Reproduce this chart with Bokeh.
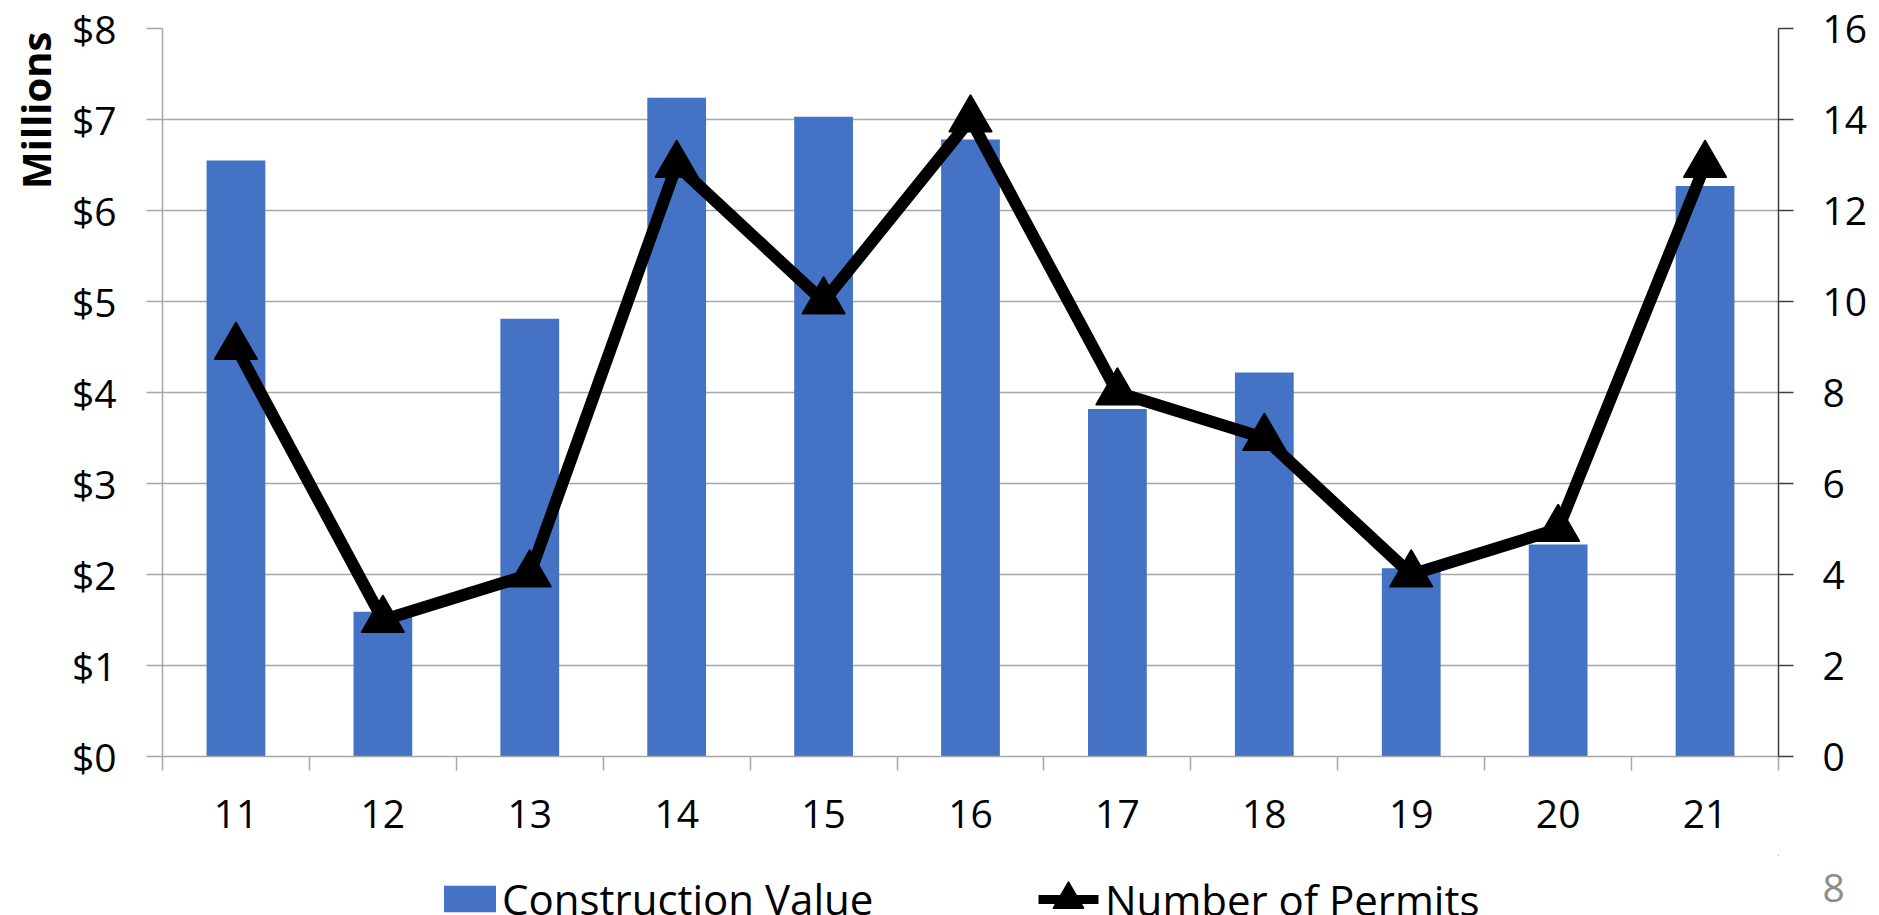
from bokeh.plotting import figure
from bokeh.layouts import column
from bokeh.models import (Range1d, LinearAxis, FixedTicker, PrintfTickFormatter,
                          Legend, LegendItem, Title)
from bokeh.embed import file_html
from bokeh.resources import INLINE

# ---- data ----
years = ["11", "12", "13", "14", "15", "16", "17", "18", "19", "20", "21"]
construction_value = [6.55, 1.59, 4.81, 7.24, 7.03, 6.78, 3.82, 4.22, 2.07, 2.33, 6.27]  # $ millions
permits = [9, 3, 4, 13, 10, 14, 8, 7, 4, 5, 13]
value_ticks = [0, 1, 2, 3, 4, 5, 6, 7, 8]
permit_ticks = [0, 2, 4, 6, 8, 10, 12, 14, 16]
page_number = "8"

FONT = "Open Sans"
BAR = "#4472C4"
GRID = "#a6a6a6"
DARK = "#404040"
W = 1879

xs = [i + 0.5 for i in range(len(years))]
bounds = list(range(0, len(years) + 1))

p = figure(width=W, height=855, output_backend="svg", toolbar_location=None,
           x_range=Range1d(0, len(years)), y_range=Range1d(value_ticks[0], value_ticks[-1]),
           x_axis_type=None, min_border_left=162, min_border_right=101,
           min_border_top=28, min_border_bottom=99)
p.extra_y_ranges = {"permits": Range1d(permit_ticks[0], permit_ticks[-1])}
p.outline_line_color = None

# left axis
ya = p.yaxis[0]
ya.ticker = FixedTicker(ticks=value_ticks)
ya.formatter = PrintfTickFormatter(format="$%d")
ya.axis_line_color = GRID
ya.axis_line_width = 1.5
ya.major_tick_line_color = GRID
ya.major_tick_line_width = 1.5
ya.major_tick_out = 16
ya.major_tick_in = 0
ya.minor_tick_line_color = None
ya.major_label_text_font = FONT
ya.major_label_text_font_size = "39px"
ya.major_label_text_color = "black"
ya.major_label_standoff = 30

# right axis
yr = LinearAxis(y_range_name="permits", ticker=FixedTicker(ticks=permit_ticks))
yr.axis_line_color = DARK
yr.axis_line_width = 1.5
yr.major_tick_line_color = DARK
yr.major_tick_line_width = 1.5
yr.major_tick_out = 15
yr.major_tick_in = 0
yr.minor_tick_line_color = None
yr.major_label_text_font = FONT
yr.major_label_text_font_size = "39px"
yr.major_label_text_color = "black"
yr.major_label_standoff = 29
p.add_layout(yr, "right")

# bottom axis: labels at category centres, ticks at category boundaries
xa = LinearAxis(ticker=FixedTicker(ticks=xs, minor_ticks=bounds))
xa.major_label_overrides = {x: lab for x, lab in zip(xs, years)}
xa.axis_line_color = GRID
xa.axis_line_width = 1.5
xa.major_tick_line_color = None
xa.major_tick_out = 0
xa.major_tick_in = 0
xa.minor_tick_line_color = GRID
xa.minor_tick_line_width = 1.5
xa.minor_tick_out = 14
xa.minor_tick_in = 0
xa.major_label_text_font = FONT
xa.major_label_text_font_size = "39px"
xa.major_label_text_color = "black"
xa.major_label_standoff = 29
p.add_layout(xa, "below")

p.add_layout(Title(text="Millions", align="right", offset=3, text_font=FONT,
                   text_font_style="bold", text_font_size="40px", text_color="black",
                   standoff=11), "left")

p.ygrid.ticker = FixedTicker(ticks=value_ticks)
p.ygrid.grid_line_color = GRID
p.ygrid.grid_line_width = 1.5

p.vbar(x=xs, top=construction_value, width=0.4, fill_color=BAR, line_color=None)
p.line(x=xs, y=permits, y_range_name="permits", line_color="black",
       line_width=12, line_join="round")
p.scatter(x=xs, y=permits, y_range_name="permits", marker="triangle", size=42,
          fill_color="black", line_color="black", line_width=2, line_join="round")

# ---- legend strip (its frame is aligned with the chart frame by the column) ----
q = figure(width=W, height=60, output_backend="svg", toolbar_location=None,
           x_range=Range1d(-2, -1), y_range=Range1d(-2, -1), x_axis_type=None, y_axis_type=None,
           min_border=0, min_border_left=0, min_border_right=0, min_border_top=0,
           min_border_bottom=0)
q.outline_line_color = None
q.xgrid.visible = False
q.ygrid.visible = False
# legend proxies (same data, kept outside this strip's visible ranges)
lb = q.vbar(x=xs, top=construction_value, width=0.4, fill_color=BAR, line_color=None)
ll = q.line(x=xs, y=permits, line_color="black", line_width=9, line_dash="0 7 60 1000")
lm = q.scatter(x=xs, y=permits, marker="triangle", fill_color="black", line_color="black",
               line_width=2, line_join="round")

leg1 = Legend(items=[LegendItem(label="Construction Value", renderers=[lb])],
              location=(275, -12), orientation="horizontal",
              glyph_width=65, glyph_height=33, label_standoff=0,
              padding=0, margin=0, spacing=0, border_line_color=None,
              background_fill_alpha=0, label_text_font=FONT,
              label_text_font_size="42px", label_text_color="black")
leg2 = Legend(items=[LegendItem(label="Number of Permits", renderers=[ll, lm])],
              location=(869, -24), orientation="horizontal",
              glyph_width=74, glyph_height=80, label_standoff=0,
              padding=0, margin=0, spacing=0, border_line_color=None,
              background_fill_alpha=0, label_text_font=FONT,
              label_text_font_size="42px", label_text_color="black")
q.add_layout(leg1, "center")
q.add_layout(leg2, "center")

# slide page number at the bottom-right corner
pg = LinearAxis(ticker=FixedTicker(ticks=[q.y_range.start]))
pg.major_label_overrides = {q.y_range.start: page_number}
pg.axis_line_color = None
pg.major_tick_line_color = None
pg.minor_tick_line_color = None
pg.major_tick_out = 0
pg.major_tick_in = 0
pg.major_label_standoff = 44
pg.major_label_text_font = FONT
pg.major_label_text_font_size = "39px"
pg.major_label_text_color = "#8c8c8c"
q.add_layout(pg, "right")

layout = column(p, q, spacing=0)
open("out.html", "w").write(file_html(layout, INLINE))
